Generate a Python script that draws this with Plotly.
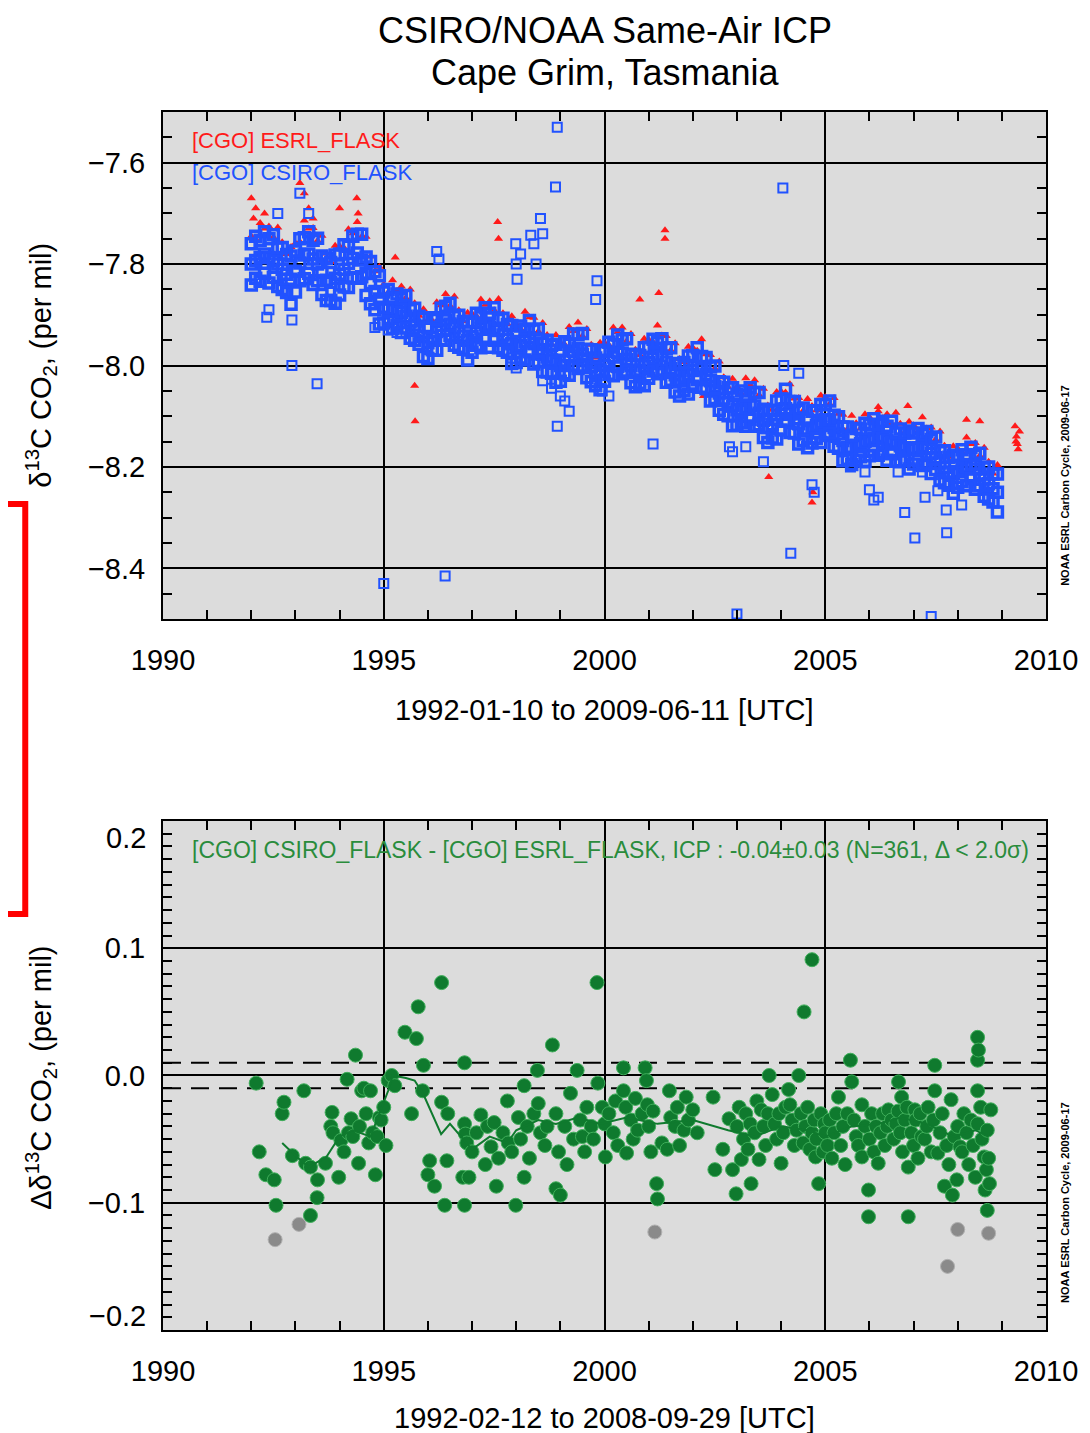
import plotly.graph_objects as go

# ---------------- DATA ----------------
# top panel: decimal years (sampling of the flask record)
years_top = [
    1992.0, 1992.1, 1992.2, 1992.3, 1992.4, 1992.5, 1992.6, 1992.7, 1992.8, 1992.9,
    1993.0, 1993.1, 1993.2, 1993.3, 1993.4, 1993.5, 1993.6, 1993.7, 1993.8, 1993.9,
    1994.0, 1994.1, 1994.2, 1994.3, 1994.4, 1994.5, 1994.6, 1994.7, 1994.8, 1994.9,
    1995.0, 1995.1, 1995.2, 1995.3, 1995.4, 1995.5, 1995.6, 1995.7, 1995.8, 1995.9,
    1996.0, 1996.1, 1996.2, 1996.3, 1996.4, 1996.5, 1996.6, 1996.7, 1996.8, 1996.9,
    1997.0, 1997.1, 1997.2, 1997.3, 1997.4, 1997.5, 1997.6, 1997.7, 1997.8, 1997.9,
    1998.0, 1998.1, 1998.2, 1998.3, 1998.4, 1998.5, 1998.6, 1998.7, 1998.8, 1998.9,
    1999.0, 1999.1, 1999.2, 1999.3, 1999.4, 1999.5, 1999.6, 1999.7, 1999.8, 1999.9,
    2000.0, 2000.1, 2000.2, 2000.3, 2000.4, 2000.5, 2000.6, 2000.7, 2000.8, 2000.9,
    2001.0, 2001.1, 2001.2, 2001.3, 2001.4, 2001.5, 2001.6, 2001.7, 2001.8, 2001.9,
    2002.0, 2002.1, 2002.2, 2002.3, 2002.4, 2002.5, 2002.6, 2002.7, 2002.8, 2002.9,
    2003.0, 2003.1, 2003.2, 2003.3, 2003.4, 2003.5, 2003.6, 2003.7, 2003.8, 2003.9,
    2004.0, 2004.1, 2004.2, 2004.3, 2004.4, 2004.5, 2004.6, 2004.7, 2004.8, 2004.9,
    2005.0, 2005.1, 2005.2, 2005.3, 2005.4, 2005.5, 2005.6, 2005.7, 2005.8, 2005.9,
    2006.0, 2006.1, 2006.2, 2006.3, 2006.4, 2006.5, 2006.6, 2006.7, 2006.8, 2006.9,
    2007.0, 2007.1, 2007.2, 2007.3, 2007.4, 2007.5, 2007.6, 2007.7, 2007.8, 2007.9,
    2008.0, 2008.1, 2008.2, 2008.3, 2008.4, 2008.5, 2008.6, 2008.7, 2008.8, 2008.9,
]

# CSIRO_FLASK (blue) - middle, upper and lower members of the dense band
blue_mid = [
    -7.800, -7.793, -7.787, -7.780, -7.787, -7.793, -7.800, -7.810, -7.820, -7.830,
    -7.814, -7.798, -7.782, -7.780, -7.790, -7.800, -7.816, -7.832, -7.836, -7.828,
    -7.820, -7.810, -7.799, -7.789, -7.778, -7.792, -7.818, -7.838, -7.854, -7.869,
    -7.885, -7.888, -7.890, -7.893, -7.895, -7.903, -7.912, -7.920, -7.932, -7.943,
    -7.955, -7.944, -7.933, -7.921, -7.910, -7.918, -7.926, -7.934, -7.942, -7.950,
    -7.943, -7.935, -7.928, -7.920, -7.924, -7.927, -7.931, -7.940, -7.948, -7.957,
    -7.963, -7.960, -7.952, -7.945, -7.957, -7.969, -7.978, -7.983, -7.989, -7.994,
    -8.000, -7.991, -7.982, -7.972, -7.966, -7.978, -7.990, -8.002, -8.014, -8.009,
    -8.000, -7.992, -7.983, -7.974, -7.976, -7.988, -8.000, -8.012, -8.009, -8.001,
    -7.994, -7.986, -7.979, -7.981, -7.993, -8.006, -8.018, -8.030, -8.023, -8.017,
    -8.010, -8.003, -8.006, -8.018, -8.030, -8.042, -8.054, -8.066, -8.073, -8.080,
    -8.087, -8.088, -8.083, -8.078, -8.080, -8.094, -8.108, -8.122, -8.117, -8.106,
    -8.096, -8.085, -8.095, -8.105, -8.115, -8.125, -8.128, -8.123, -8.118, -8.113,
    -8.107, -8.108, -8.122, -8.135, -8.148, -8.162, -8.161, -8.157, -8.154, -8.150,
    -8.147, -8.143, -8.140, -8.144, -8.147, -8.151, -8.155, -8.158, -8.162, -8.165,
    -8.163, -8.162, -8.160, -8.164, -8.173, -8.182, -8.192, -8.201, -8.210, -8.213,
    -8.209, -8.204, -8.200, -8.195, -8.204, -8.214, -8.224, -8.233, -8.243, -8.250,
]
blue_upper = [
    -7.760, -7.745, -7.753, -7.736, -7.750, -7.742, -7.768, -7.767, -7.781, -7.784,
    -7.774, -7.750, -7.748, -7.736, -7.753, -7.749, -7.784, -7.789, -7.797, -7.782,
    -7.780, -7.762, -7.765, -7.745, -7.741, -7.741, -7.786, -7.795, -7.815, -7.823,
    -7.855, -7.850, -7.866, -7.859, -7.868, -7.862, -7.890, -7.887, -7.903, -7.907,
    -7.925, -7.906, -7.909, -7.887, -7.883, -7.877, -7.904, -7.901, -7.913, -7.914,
    -7.913, -7.897, -7.904, -7.886, -7.897, -7.886, -7.909, -7.907, -7.919, -7.921,
    -7.933, -7.922, -7.928, -7.911, -7.930, -7.928, -7.956, -7.950, -7.960, -7.958,
    -7.970, -7.953, -7.958, -7.938, -7.939, -7.937, -7.968, -7.969, -7.985, -7.973,
    -7.970, -7.954, -7.959, -7.940, -7.949, -7.947, -7.978, -7.979, -7.980, -7.965,
    -7.964, -7.948, -7.955, -7.947, -7.966, -7.965, -7.996, -7.997, -7.994, -7.981,
    -7.980, -7.965, -7.982, -7.984, -8.003, -8.001, -8.032, -8.033, -8.044, -8.044,
    -8.057, -8.050, -8.059, -8.044, -8.053, -8.053, -8.086, -8.089, -8.088, -8.070,
    -8.066, -8.047, -8.071, -8.071, -8.088, -8.084, -8.106, -8.090, -8.089, -8.077,
    -8.077, -8.070, -8.098, -8.101, -8.121, -8.121, -8.139, -8.124, -8.125, -8.114,
    -8.117, -8.105, -8.116, -8.110, -8.120, -8.110, -8.133, -8.125, -8.133, -8.129,
    -8.133, -8.124, -8.136, -8.130, -8.146, -8.141, -8.170, -8.168, -8.181, -8.177,
    -8.179, -8.166, -8.176, -8.161, -8.177, -8.173, -8.202, -8.200, -8.214, -8.214,
]
blue_lower = [
    -7.841, -7.828, -7.834, -7.818, -7.837, -7.826, -7.844, -7.850, -7.856, -7.879,
    -7.855, -7.833, -7.829, -7.818, -7.840, -7.833, -7.860, -7.872, -7.872, -7.877,
    -7.861, -7.845, -7.846, -7.827, -7.828, -7.825, -7.862, -7.878, -7.890, -7.918,
    -7.916, -7.913, -7.927, -7.921, -7.935, -7.926, -7.946, -7.950, -7.958, -7.982,
    -7.986, -7.969, -7.970, -7.949, -7.950, -7.941, -7.960, -7.964, -7.968, -7.989,
    -7.974, -7.960, -7.965, -7.948, -7.964, -7.950, -7.965, -7.970, -7.974, -7.996,
    -7.994, -7.985, -7.989, -7.973, -7.997, -7.992, -8.012, -8.013, -8.015, -8.033,
    -8.031, -8.016, -8.019, -8.000, -8.006, -8.001, -8.024, -8.032, -8.040, -8.048,
    -8.031, -8.017, -8.020, -8.002, -8.016, -8.011, -8.034, -8.042, -8.035, -8.040,
    -8.025, -8.011, -8.016, -8.009, -8.033, -8.029, -8.052, -8.060, -8.049, -8.056,
    -8.041, -8.028, -8.043, -8.046, -8.070, -8.065, -8.088, -8.096, -8.099, -8.119,
    -8.118, -8.113, -8.120, -8.106, -8.120, -8.117, -8.142, -8.152, -8.143, -8.145,
    -8.127, -8.110, -8.132, -8.133, -8.155, -8.148, -8.162, -8.153, -8.144, -8.152,
    -8.138, -8.133, -8.159, -8.163, -8.188, -8.185, -8.195, -8.187, -8.180, -8.189,
    -8.178, -8.168, -8.177, -8.172, -8.187, -8.174, -8.189, -8.188, -8.188, -8.204,
    -8.194, -8.187, -8.197, -8.192, -8.213, -8.205, -8.226, -8.231, -8.236, -8.252,
    -8.240, -8.229, -8.237, -8.223, -8.244, -8.237, -8.258, -8.263, -8.269, -8.289,
]
blue_out_x = [1992.35, 1992.40, 1992.60, 1992.92, 1992.92, 1993.10, 1993.30, 1993.49,
              1994.80, 1995.00, 1995.10, 1995.30, 1996.20, 1996.25, 1996.39,
              1997.90, 1997.99, 1998.00, 1998.00, 1998.02, 1998.10, 1998.33, 1998.40,
              1998.45, 1998.55, 1998.60, 1998.60, 1998.80, 1998.89, 1998.93, 1998.93,
              1999.00, 1999.10, 1999.20, 1999.80, 1999.83, 1999.95, 2000.10, 2001.10,
              2002.83, 2002.90, 2003.00, 2003.20, 2003.60, 2004.04, 2004.06, 2004.22,
              2004.40, 2004.70, 2004.75, 2005.57, 2005.90, 2006.00, 2006.10, 2006.20,
              2006.65, 2006.80, 2007.03, 2007.20, 2007.26, 2007.40, 2007.55, 2007.74,
              2007.75, 2008.09]
blue_out_y = [-7.905, -7.890, -7.700, -7.910, -8.000, -7.660, -7.700, -8.036,
              -7.925, -8.430, -7.930, -7.935, -7.775, -7.790, -8.415,
              -7.985, -7.760, -7.800, -8.005, -7.830, -7.780, -7.743, -7.760,
              -7.800, -7.710, -7.740, -8.030, -8.045, -7.648, -7.530, -8.120,
              -8.060, -8.070, -8.090, -7.870, -7.833, -8.050, -8.060, -8.155,
              -8.160, -8.170, -8.490, -8.160, -8.190, -7.650, -8.000, -8.370,
              -8.015, -8.235, -8.250, -8.200, -8.210, -8.245, -8.265, -8.260,
              -8.210, -8.290, -8.340, -8.210, -8.260, -8.495, -8.247, -8.285,
              -8.330, -8.275]

# ESRL_FLASK (red)
red_band = [
    -7.745, -7.751, -7.719, -7.730, -7.726, -7.747, -7.728, -7.757, -7.780, -7.766,
    -7.759, -7.756, -7.714, -7.730, -7.729, -7.754, -7.744, -7.779, -7.796, -7.764,
    -7.765, -7.768, -7.731, -7.739, -7.717, -7.746, -7.746, -7.785, -7.814, -7.805,
    -7.840, -7.856, -7.832, -7.853, -7.844, -7.867, -7.850, -7.877, -7.902, -7.889,
    -7.910, -7.912, -7.875, -7.881, -7.859, -7.882, -7.864, -7.891, -7.912, -7.896,
    -7.898, -7.903, -7.870, -7.880, -7.873, -7.891, -7.869, -7.897, -7.918, -7.903,
    -7.918, -7.928, -7.894, -7.905, -7.906, -7.933, -7.916, -7.940, -7.959, -7.940,
    -7.955, -7.959, -7.924, -7.932, -7.915, -7.942, -7.928, -7.959, -7.984, -7.955,
    -7.955, -7.960, -7.925, -7.934, -7.925, -7.952, -7.938, -7.969, -7.979, -7.947,
    -7.949, -7.954, -7.921, -7.941, -7.942, -7.970, -7.956, -7.987, -7.993, -7.963,
    -7.965, -7.971, -7.948, -7.978, -7.979, -8.006, -7.992, -8.023, -8.043, -8.026,
    -8.042, -8.056, -8.025, -8.038, -8.029, -8.058, -8.046, -8.079, -8.087, -8.052,
    -8.051, -8.053, -8.037, -8.065, -8.064, -8.089, -8.066, -8.080, -8.088, -8.059,
    -8.062, -8.076, -8.064, -8.095, -8.097, -8.126, -8.099, -8.114, -8.124, -8.096,
    -8.102, -8.111, -8.082, -8.104, -8.096, -8.115, -8.093, -8.115, -8.132, -8.111,
    -8.118, -8.130, -8.102, -8.124, -8.122, -8.146, -8.130, -8.158, -8.180, -8.159,
    -8.164, -8.172, -8.142, -8.155, -8.153, -8.178, -8.162, -8.190, -8.213, -8.196,
]
red_out_x = [1992.00, 1992.05, 1992.10, 1992.30, 1993.10, 1993.20, 1993.30, 1993.40,
             1994.00, 1994.39, 1994.42, 1995.26, 1995.70, 1995.71, 1997.58, 1997.60,
             2000.80, 2001.23, 2001.37, 2001.37, 2002.24, 2003.72, 2004.70, 2004.72,
             2006.20, 2006.87, 2008.20, 2008.50, 2009.30, 2009.32, 2009.33, 2009.35,
             2009.37, 2009.40]
red_out_y = [-7.670, -7.710, -7.690, -7.700, -7.640, -7.660, -7.690, -7.710,
             -7.690, -7.670, -7.700, -7.787, -8.040, -8.110, -7.717, -7.750,
             -7.870, -7.857, -7.733, -7.750, -8.060, -8.220, -8.270, -8.250,
             -8.090, -8.080, -8.107, -8.110, -8.120, -8.150, -8.140, -8.155,
             -8.165, -8.130]

# bottom panel: CSIRO - ESRL same-air differences
diff_year = [
    1992.11, 1992.18, 1992.33, 1992.52, 1992.56, 1992.70, 1992.74, 1992.93,
    1993.19, 1993.23, 1993.34, 1993.34, 1993.49, 1993.50, 1993.68, 1993.80, 1993.83, 1993.85, 1993.98,
    1994.03, 1994.10, 1994.17, 1994.20, 1994.26, 1994.30, 1994.36, 1994.43, 1994.45, 1994.50,
    1994.55, 1994.60, 1994.66, 1994.70, 1994.75, 1994.81, 1994.85, 1994.90, 1994.94,
    1995.00, 1995.05, 1995.10, 1995.18, 1995.25, 1995.48, 1995.63, 1995.74, 1995.78, 1995.88, 1995.90,
    1996.00, 1996.04, 1996.15, 1996.31, 1996.31, 1996.38, 1996.43, 1996.45, 1996.79, 1996.83,
    1996.83, 1996.83, 1996.85, 1996.88, 1996.93,
    1997.00, 1997.10, 1997.20, 1997.30, 1997.35, 1997.43, 1997.50, 1997.55, 1997.60, 1997.70,
    1997.80, 1997.82, 1997.90, 1997.99,
    1998.05, 1998.10, 1998.18, 1998.18, 1998.25, 1998.30, 1998.40, 1998.48, 1998.50, 1998.55,
    1998.65, 1998.70, 1998.82, 1998.90, 1998.90, 1998.96,
    1999.00, 1999.10, 1999.15, 1999.23, 1999.30, 1999.38, 1999.45, 1999.50, 1999.55, 1999.60,
    1999.70, 1999.75, 1999.83, 1999.85, 1999.95,
    2000.00, 2000.02, 2000.10, 2000.20, 2000.25, 2000.30, 2000.43, 2000.43, 2000.48, 2000.50,
    2000.60, 2000.65, 2000.70, 2000.75, 2000.85, 2000.92, 2000.95, 2000.97,
    2001.00, 2001.05, 2001.10, 2001.18, 2001.20, 2001.30, 2001.42, 2001.47, 2001.50, 2001.60,
    2001.65, 2001.70, 2001.80, 2001.85, 2001.90,
    2002.00, 2002.10, 2002.46, 2002.50, 2002.68, 2002.82, 2002.90, 2002.98,
    2003.00, 2003.05, 2003.10, 2003.15, 2003.20, 2003.25, 2003.30, 2003.32, 2003.40, 2003.45,
    2003.50, 2003.55, 2003.60, 2003.65, 2003.70, 2003.73, 2003.80, 2003.85, 2003.90, 2003.95,
    2004.00, 2004.05, 2004.10, 2004.17, 2004.20, 2004.25, 2004.30, 2004.35, 2004.40, 2004.45,
    2004.50, 2004.52, 2004.55, 2004.60, 2004.65, 2004.70, 2004.70, 2004.75, 2004.78, 2004.80,
    2004.85, 2004.90, 2004.95, 2004.98,
    2005.00, 2005.05, 2005.10, 2005.15, 2005.20, 2005.25, 2005.30, 2005.35, 2005.40, 2005.45,
    2005.50, 2005.57, 2005.60, 2005.65, 2005.70, 2005.75, 2005.83, 2005.83, 2005.90, 2005.98, 2005.98,
    2006.00, 2006.05, 2006.10, 2006.15, 2006.20, 2006.25, 2006.30, 2006.35, 2006.40, 2006.43,
    2006.50, 2006.55, 2006.60, 2006.65, 2006.66, 2006.70, 2006.73, 2006.75, 2006.80, 2006.85,
    2006.88, 2006.88, 2006.95,
    2007.00, 2007.03, 2007.05, 2007.10, 2007.15, 2007.18, 2007.25, 2007.30, 2007.33, 2007.40,
    2007.45, 2007.48, 2007.48, 2007.55, 2007.60, 2007.65, 2007.70, 2007.75, 2007.80, 2007.85,
    2007.88, 2007.92, 2007.98,
    2008.00, 2008.05, 2008.10, 2008.14, 2008.20, 2008.25, 2008.30, 2008.35, 2008.40, 2008.45,
    2008.45, 2008.45, 2008.45, 2008.47, 2008.52, 2008.55, 2008.60, 2008.62, 2008.65, 2008.67,
    2008.67, 2008.70, 2008.72, 2008.75,
]
diff_value = [
    -0.006, -0.060, -0.078, -0.082, -0.102, -0.030, -0.021, -0.063,
    -0.012, -0.069, -0.072, -0.110, -0.096, -0.082, -0.069, -0.040, -0.029, -0.045, -0.080,
    -0.051, -0.060, -0.003, -0.045, -0.034, -0.048, 0.016, -0.069, -0.040, -0.012,
    -0.010, -0.030, -0.053, -0.012, -0.045, -0.078, -0.048, -0.033, -0.035,
    -0.025, -0.055, -0.004, 0.000, -0.008, 0.034, -0.030, 0.029, 0.054, -0.012, 0.008,
    -0.078, -0.067, -0.087, 0.073, -0.021, -0.102, -0.067, -0.030, -0.080, 0.010,
    -0.038, -0.102, -0.046, -0.053, -0.080,
    -0.060, -0.045, -0.031, -0.070, -0.040, -0.056, -0.037, -0.087, -0.065, -0.045,
    -0.020, -0.053, -0.060, -0.102,
    -0.033, -0.050, -0.080, -0.008, -0.040, -0.065, -0.030, 0.004, -0.022, -0.045,
    -0.055, -0.040, 0.024, -0.030, -0.089, -0.060,
    -0.094, -0.040, -0.070, -0.014, -0.050, 0.004, -0.035, -0.048, -0.060, -0.025,
    -0.040, -0.050, 0.073, -0.006, -0.025,
    -0.038, -0.064, -0.030, -0.045, -0.020, -0.055, 0.006, -0.012, -0.025, -0.061,
    -0.035, -0.050, -0.018, -0.043, -0.030, 0.006, -0.004, -0.023,
    -0.040, -0.060, -0.028, -0.085, -0.097, -0.053, -0.058, -0.012, -0.033, -0.040,
    -0.025, -0.055, -0.043, -0.017, -0.035,
    -0.027, -0.045, -0.017, -0.074, -0.058, -0.034, -0.074, -0.093,
    -0.040, -0.025, -0.066, -0.050, -0.030, -0.058, -0.038, -0.085, -0.045, -0.020,
    -0.066, -0.027, -0.040, -0.055, -0.030, 0.000, -0.015, -0.038, -0.050, -0.030,
    -0.069, -0.045, -0.025, -0.011, -0.023, -0.035, -0.055, -0.043, 0.000, -0.030,
    -0.053, 0.050, -0.040, -0.025, -0.058, 0.091, -0.045, -0.035, -0.064, -0.050,
    -0.085, -0.030, -0.060, -0.038,
    -0.045, -0.055, -0.035, -0.065, -0.045, -0.030, -0.017, -0.055, -0.040, -0.070,
    -0.030, 0.012, -0.005, -0.035, -0.048, -0.055, -0.023, -0.064, -0.040, -0.090, -0.111,
    -0.050, -0.030, -0.060, -0.040, -0.069, -0.045, -0.030, -0.055, -0.040, -0.027,
    -0.035, -0.050, -0.038, -0.028, -0.005, -0.045, -0.017, -0.060, -0.035, -0.025,
    -0.072, -0.111, -0.045,
    -0.055, -0.027, -0.035, -0.065, -0.030, -0.048, -0.050, -0.040, -0.025, -0.060,
    -0.035, 0.008, -0.012, -0.061, -0.045, -0.030, -0.087, -0.055, -0.070, -0.019,
    -0.094, -0.048, -0.082,
    -0.040, -0.056, -0.060, -0.030, -0.045, -0.070, -0.035, -0.055, -0.080, 0.030,
    0.012, -0.012, -0.038, 0.020, -0.025, -0.050, -0.064, -0.090, -0.074, -0.043,
    -0.106, -0.065, -0.085, -0.027,
]
# rejected (> 2 sigma) differences, drawn grey
reject_year = [1992.54, 1993.08, 2001.14, 2007.77, 2008.00, 2008.70]
reject_value = [-0.129, -0.117, -0.123, -0.150, -0.121, -0.124]

# smoothed difference curve
smooth_year = [1992.7, 1993.0, 1993.3, 1993.7, 1994.0, 1994.3, 1994.7, 1995.1, 1995.2, 1995.5,
               1995.7, 1995.9, 1996.3, 1996.5, 1996.75, 1997.0, 1997.4, 1997.8, 1998.0, 1998.5,
               1998.9, 1999.4, 1999.9, 2000.5, 2001.2, 2002.0, 2002.8, 2003.4, 2004.0, 2004.6,
               2005.0, 2005.6, 2006.2, 2006.7, 2007.3, 2007.9, 2008.4, 2008.7]
smooth_value = [-0.053, -0.063, -0.072, -0.064, -0.048, -0.043, -0.048, -0.012, 0.000, -0.002,
                -0.004, -0.015, -0.046, -0.038, -0.048, -0.058, -0.048, -0.053, -0.043, -0.035,
                -0.038, -0.033, -0.038, -0.033, -0.038, -0.035, -0.043, -0.048, -0.040, -0.043,
                -0.048, -0.040, -0.038, -0.033, -0.038, -0.048, -0.043, -0.048]

icp_band = [-0.01, 0.01]

# ---------------- FIGURE ----------------
FONT = "Liberation Sans, Arial, Helvetica, sans-serif"
RED = "#ff1a1a"
BLUE = "#2152ff"
GREEN = "#0f7a2e"
GREEN_TXT = "#2a8c3c"

fig = go.Figure()

fig.add_trace(go.Scatter(
    x=years_top + red_out_x, y=red_band + red_out_y, mode="markers",
    marker=dict(symbol="triangle-up", size=8, color=RED, line=dict(width=0)),
    xaxis="x", yaxis="y", showlegend=False))

# dense part of the CSIRO record (heavily overlapping open squares)
fig.add_trace(go.Scatter(
    x=years_top * 3, y=blue_mid + blue_upper + blue_lower,
    mode="markers",
    marker=dict(symbol="square-open", size=10, color=BLUE, line=dict(width=3.5, color=BLUE)),
    xaxis="x", yaxis="y", showlegend=False))

# isolated CSIRO flasks
fig.add_trace(go.Scatter(
    x=blue_out_x, y=blue_out_y, mode="markers",
    marker=dict(symbol="square-open", size=9, color=BLUE, line=dict(width=2, color=BLUE)),
    xaxis="x", yaxis="y", showlegend=False))

fig.add_trace(go.Scatter(
    x=reject_year, y=reject_value, mode="markers",
    marker=dict(symbol="circle", size=14, color="#8a8a8a", line=dict(width=1, color="#b0b0b0")),
    xaxis="x2", yaxis="y2", showlegend=False))

fig.add_trace(go.Scatter(
    x=diff_year, y=diff_value, mode="markers",
    marker=dict(symbol="circle", size=14, color=GREEN, line=dict(width=1, color="#3fae5a")),
    xaxis="x2", yaxis="y2", showlegend=False))

fig.add_trace(go.Scatter(
    x=smooth_year, y=smooth_value, mode="lines",
    line=dict(color=GREEN, width=2),
    xaxis="x2", yaxis="y2", showlegend=False))

axis_common = dict(
    ticks="inside", tickcolor="black", tickwidth=2, ticklen=14,
    showline=True, linecolor="black", linewidth=2, mirror="allticks",
    showgrid=True, gridcolor="black", gridwidth=2, zeroline=False,
    tickfont=dict(family=FONT, size=29, color="black"),
)

top_dom = [0.5837, 1.0]
bot_dom = [0.0, 0.4179]

# page body adds an 8px offset, so the figure is 8px smaller than the window
fig.update_layout(
    width=1082, height=1425,
    margin=dict(l=155, r=38, t=104, b=103),
    paper_bgcolor="white", plot_bgcolor="#dcdcdc",
    showlegend=False,
    font=dict(family=FONT, color="black", size=29),
    xaxis=dict(axis_common, domain=[0, 1], anchor="y", range=[1990, 2010],
               tickmode="linear", tick0=1990, dtick=5, ticklabelstandoff=14,
               minor=dict(tick0=1990, dtick=1, ticks="inside", ticklen=9, tickwidth=2,
                          tickcolor="black", showgrid=False)),
    yaxis=dict(axis_common, domain=top_dom, anchor="x", range=[-8.5, -7.5],
               tickmode="linear", tick0=-8.4, dtick=0.2, tickformat=".1f",
               ticklabelstandoff=10,
               minor=dict(tick0=-8.4, dtick=0.05, ticks="inside", ticklen=9, tickwidth=2,
                          tickcolor="black", showgrid=False)),
    xaxis2=dict(axis_common, domain=[0, 1], anchor="y2", range=[1990, 2010],
                tickmode="linear", tick0=1990, dtick=5, ticklabelstandoff=14,
                minor=dict(tick0=1990, dtick=1, ticks="inside", ticklen=9, tickwidth=2,
                           tickcolor="black", showgrid=False)),
    yaxis2=dict(axis_common, domain=bot_dom, anchor="x2", range=[-0.2, 0.2],
                tickmode="array", tickvals=[-0.1, 0.0, 0.1], tickformat=".1f",
                ticklabelstandoff=10,
                minor=dict(tick0=0, dtick=0.01, ticks="inside", ticklen=9, tickwidth=2,
                           tickcolor="black", showgrid=False)),
)

# ICP acceptance band (dashed)
for lvl in icp_band:
    fig.add_shape(type="line", xref="x2", yref="y2", x0=1990, x1=2010, y0=lvl, y1=lvl,
                  line=dict(color="black", width=2, dash="18px,10px"), layer="below")

# red bracket at left edge
fig.add_shape(type="path", xref="paper", yref="paper",
              path="M -0.19,0.6782 L -0.1560,0.6782 L -0.1560,0.3415 L -0.19,0.3415",
              line=dict(color="#ff0000", width=6))

def ann(text, x, y, size, color="black", xanchor="center", yanchor="middle", angle=0):
    fig.add_annotation(text=text, x=x, y=y, xref="paper", yref="paper", showarrow=False,
                       xanchor=xanchor, yanchor=yanchor, textangle=angle,
                       font=dict(family=FONT, size=size, color=color))

ann("CSIRO/NOAA Same-Air ICP", 0.5, 1.0673, 36)
ann("Cape Grim, Tasmania", 0.5, 1.0328, 36)
ann("1992-01-10 to 2009-06-11 [UTC]", 0.5, 0.5090, 29)
ann("1992-02-12 to 2008-09-29 [UTC]", 0.5, -0.0722, 29)
ann("δ<sup>13</sup>C CO<sub>2</sub>, (per mil)", -0.1384, 0.7923, 29, angle=-90)
ann("Δδ<sup>13</sup>C CO<sub>2</sub>, (per mil)", -0.1384, 0.2069, 29, angle=-90)
ann("[CGO] ESRL_FLASK", 0.0304, 0.9770, 22, color=RED, xanchor="left")
ann("[CGO] CSIRO_FLASK", 0.0304, 0.9507, 22, color=BLUE, xanchor="left")
ann("[CGO] CSIRO_FLASK - [CGO] ESRL_FLASK, ICP : -0.04±0.03 (N=361, Δ < 2.0σ)",
    0.0304, 0.3941, 23, color=GREEN_TXT, xanchor="left")
ann("0.2", -0.0169, 0.4039, 29, xanchor="right")
ann("\u22120.2", -0.0169, 0.0115, 29, xanchor="right")
ann("<b>NOAA ESRL Carbon Cycle, 2009-06-17</b>", 1.0214, 0.6938, 11, angle=-90)
ann("<b>NOAA ESRL Carbon Cycle, 2009-06-17</b>", 1.0214, 0.1051, 11, angle=-90)

fig.write_html("out.html")
